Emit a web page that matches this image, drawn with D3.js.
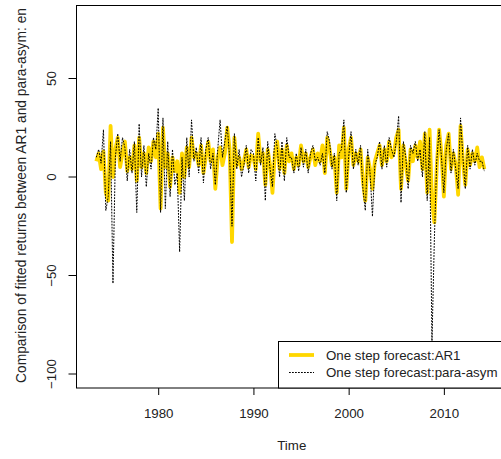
<!DOCTYPE html>
<html>
<head>
<meta charset="utf-8">
<script src="https://cdn.jsdelivr.net/npm/d3@7"></script>
<style>
  html, body { margin: 0; padding: 0; background: #fff; }
  svg { display: block; font-family: "Liberation Sans", Arial, sans-serif; }
</style>
</head>
<body>
<svg id="chart" width="501" height="459"></svg>
<script>
// Quarterly series, first observation 1973 Q3
const startYear = 1973.5;
const step = 0.25;

// One step forecast: AR1
const ar1 = [
  8, 12,
  4, 13, -8, -12,      // 1974
  26, 0, 14, 20,       // 1975
  5, 12, 18, 3,        // 1976
  10, 4, 16, -2,       // 1977
  20, 5, 12, 2,        // 1978
  15, 8, 18, 10,       // 1979
  22, -16, 25, 5,      // 1980
  12, -5, 10, 3,       // 1981
  8, -8, 12, 0,        // 1982
  15, 5, 20, 10,       // 1983
  12, 6, 16, 2,        // 1984
  10, 18, 8, 14,       // 1985
  -6, 10, 15, 6,       // 1986
  12, 25, 14, -33,     // 1987
  20, 6, 10, 4,        // 1988
  8, 14, 5, 11,        // 1989
  10, 4, 22, 8,        // 1990
  12, -4, 14, 6,       // 1991
  -8, 12, 18, 4,       // 1992
  14, 2, 16, 8,        // 1993
  12, 4, 10, 6,        // 1994
  16, 8, 12, 5,        // 1995
  10, 14, 6, 12,       // 1996
  8, 16, 2, 20,        // 1997
  14, 6, 10, -8,       // 1998
  16, 10, 25, -6,      // 1999
  14, 20, 6, 12,       // 2000
  8, 14, -2, -12,      // 2001
  10, 4, -6, 8,        // 2002
  12, 16, 6, 14,       // 2003
  8, 18, 10, 12,       // 2004
  20, 24, -6, 16,      // 2005
  6, -2, 14, 8,        // 2006
  16, 10, 18, 4,       // 2007
  22, -8, 24, -12,     // 2008
  -23, 5, 24, 12,      // 2009
  -10, 16, 22, 4,      // 2010
  12, 6, -9, 26,       // 2011
  8, -4, 14, 6,        // 2012
  12, 8, 15, 5,        // 2013
  10, 4                // 2014
];

// One step forecast: para-asym
const paraAsym = [
  10, 14,
  7, 24, -17, -10,     // 1974
  18, -54, 10, 22,     // 1975
  8, 20, 15, -2,       // 1976
  14, 2, 18, -18,      // 1977
  27, 0, 16, -5,       // 1978
  12, 4, 20, 14,       // 1979
  35, -18, 30, -16,    // 1980
  18, -10, 14, -4,     // 1981
  2, -38, 10, -12,     // 1982
  20, 0, 29, 8,        // 1983
  15, 2, 20, -3,       // 1984
  14, 20, 4, 12,       // 1985
  -4, 14, 29, 10,      // 1986
  18, 26, 10, -25,     // 1987
  22, 4, 14, 0,        // 1988
  6, 16, 2, 14,        // 1989
  12, -2, 20, 6,       // 1990
  15, -12, 18, 4,      // 1991
  -5, 22, 15, 0,       // 1992
  18, -2, 20, 10,      // 1993
  10, 2, 12, 3,        // 1994
  15, 5, 14, 2,        // 1995
  12, 16, 8, 10,       // 1996
  6, 12, 2, 23,        // 1997
  18, 4, 12, -12,      // 1998
  12, 14, 29, -8,      // 1999
  10, 23, 4, 14,       // 2000
  6, 16, -6, -17,      // 2001
  14, 2, -20, 6,       // 2002
  10, 18, 4, 16,       // 2003
  5, 20, 14, 10,       // 2004
  18, 31, -13, 18,     // 2005
  10, -6, 16, 12,      // 2006
  18, 8, 14, 0,        // 2007
  23, -12, 20, -84,    // 2008
  -32, 8, 24, 10,      // 2009
  -8, 14, 22, 2,       // 2010
  14, 4, -6, 30,       // 2011
  10, -6, 16, 4,       // 2012
  14, 6, 12, 8,        // 2013
  8, 3                 // 2014
];

const xTicks = [1980, 1990, 2000, 2010];
const yTicks = [-100, -50, 0, 50];
const legendLabels = ["One step forecast:AR1", "One step forecast:para-asym"];
const yTitle = "Comparison of fitted returns between AR1 and para-asym: en";
const xTitle = "Time";

const fontSize = 13.3;
const svg = d3.select("#chart");

const plot = { left: 76.5, right: 507, top: 5.5, bottom: 388 };

const x = d3.scaleLinear().domain([1971.42, 2016.63]).range([plot.left, plot.right]);
const y = d3.scaleLinear().domain([-107.1, 87.06]).range([plot.bottom, plot.top]);

const times = ar1.map((_, i) => startYear + i * step);

svg.append("clipPath").attr("id", "plotclip")
  .append("rect")
  .attr("x", plot.left).attr("y", plot.top)
  .attr("width", plot.right - plot.left).attr("height", plot.bottom - plot.top);

const line = d3.line()
  .x(d => x(d[0]))
  .y(d => y(d[1]));

const g = svg.append("g").attr("clip-path", "url(#plotclip)");

g.append("path")
  .datum(times.map((t, i) => [t, ar1[i]]))
  .attr("fill", "none")
  .attr("stroke", "#FFD700")
  .attr("stroke-width", 3.8)
  .attr("stroke-linejoin", "round")
  .attr("d", line);

g.append("path")
  .datum(times.map((t, i) => [t, paraAsym[i]]))
  .attr("fill", "none")
  .attr("stroke", "#000")
  .attr("stroke-width", 1)
  .attr("stroke-dasharray", "1.8,1.2")
  .attr("d", line);

// Frame
svg.append("rect")
  .attr("x", plot.left).attr("y", plot.top)
  .attr("width", plot.right - plot.left).attr("height", plot.bottom - plot.top)
  .attr("fill", "none").attr("stroke", "#000").attr("stroke-width", 1);

// Axes
const xAxis = d3.axisBottom(x).tickValues(xTicks).tickSize(7).tickPadding(14).tickFormat(d3.format("d"));
const xg = svg.append("g").attr("transform", `translate(0,${plot.bottom})`).call(xAxis);
xg.select(".domain").remove();
xg.selectAll("text").attr("font-size", fontSize).attr("font-family", "Liberation Sans, Arial, sans-serif").attr("fill", "#222");

const yAxis = d3.axisLeft(y).tickValues(yTicks).tickSize(8).tickFormat(d3.format("d"));
const yg = svg.append("g").attr("transform", `translate(${plot.left},0)`).call(yAxis);
yg.select(".domain").remove();
yg.selectAll("text")
  .attr("font-size", fontSize)
  .attr("font-family", "Liberation Sans, Arial, sans-serif")
  .attr("fill", "#222")
  .attr("x", null).attr("dy", null)
  .attr("text-anchor", "middle")
  .attr("dominant-baseline", "central")
  .attr("transform", d => `translate(${51 - plot.left},${y(d)}) rotate(-90)`)
  .attr("y", 0);
yg.selectAll(".tick").attr("transform", "translate(0,0)");
yg.selectAll(".tick line").attr("y1", d => y(d)).attr("y2", d => y(d)).attr("x2", -8);

// Axis titles
svg.append("text")
  .attr("x", (plot.left + plot.right) / 2).attr("y", 450)
  .attr("text-anchor", "middle").attr("font-size", fontSize).attr("fill", "#222")
  .text(xTitle);

svg.append("text")
  .attr("transform", `translate(26,383) rotate(-90)`)
  .attr("text-anchor", "start").attr("font-size", 13.8).attr("fill", "#222")
  .text(yTitle);

// Legend
const lg = svg.append("g");
lg.append("rect")
  .attr("x", 278.5).attr("y", 341.5)
  .attr("width", 240).attr("height", plot.bottom - 341.5)
  .attr("fill", "#fff").attr("stroke", "#000").attr("stroke-width", 1);

const legendRows = [
  { label: legendLabels[0], color: "#FFD700", width: 3.8, dash: null, yy: 355 },
  { label: legendLabels[1], color: "#000", width: 1, dash: "1.8,1.2", yy: 372.5 }
];
legendRows.forEach(r => {
  lg.append("line")
    .attr("x1", 289).attr("x2", 314).attr("y1", r.yy).attr("y2", r.yy)
    .attr("stroke", r.color).attr("stroke-width", r.width)
    .attr("stroke-dasharray", r.dash);
  lg.append("text")
    .attr("x", 326).attr("y", r.yy).attr("dominant-baseline", "central")
    .attr("font-size", fontSize).attr("fill", "#222")
    .text(r.label);
});
</script>
</body>
</html>
